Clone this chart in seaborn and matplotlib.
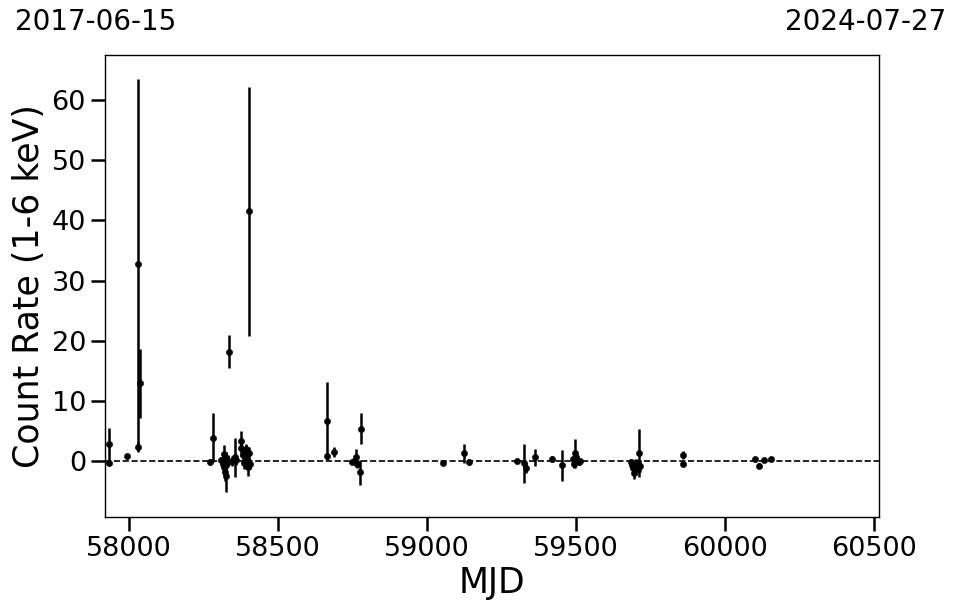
import numpy as np
import pandas as pd
import matplotlib
matplotlib.use("Agg")
import matplotlib.pyplot as plt
import seaborn as sns

# ---- data ----
mjd = [57934, 57935, 57993, 58031, 58031, 58038,
       58272, 58283, 58311, 58315, 58318, 58320, 58322, 58325, 58327, 58329,
       58333, 58336, 58345, 58355, 58360, 58375, 58378, 58383, 58387, 58392,
       58395, 58400, 58403, 58405, 58408,
       58664, 58664, 58688, 58748, 58755, 58763, 58766, 58775, 58779,
       59054, 59126, 59143, 59302, 59328, 59334, 59362, 59422, 59453,
       59490, 59495, 59498, 59502, 59505, 59510, 59515,
       59685, 59690, 59693, 59696, 59700, 59703, 59706, 59710, 59714, 59716,
       59859, 59861, 60102, 60116, 60132, 60154]
rate = [2.8, -0.4, 0.8, 32.7, 2.3, 12.9,
        -0.1, 3.9, 0.1, -0.5, 1.2, -1.0, -1.8, -2.5, 0.5, -0.3,
        0.0, 18.2, 0.0, 0.6, 0.1, 3.3, 2.2, 1.0, -0.4, 2.0,
        0.2, -1.0, 41.5, 1.3, -0.5,
        6.6, 0.8, 1.5, -0.2, 0.0, 0.6, -0.5, -1.9, 5.4,
        -0.4, 1.3, -0.2, 0.0, -0.4, -1.2, 0.6, 0.3, -0.7,
        0.3, -0.5, 1.3, 0.6, 0.2, -0.2, 0.0,
        -0.2, -0.6, -1.2, -2.0, -0.8, -1.5, -0.3, -1.0, 1.4, -0.8,
        1.0, -0.5, 0.3, -0.8, 0.2, 0.3]
err = [2.7, 0.3, 0.4, 30.8, 0.8, 5.8,
       0.5, 4.1, 0.6, 1.0, 1.5, 1.2, 1.5, 2.6, 1.0, 0.8,
       1.0, 2.7, 0.8, 3.3, 0.7, 1.7, 1.4, 1.2, 1.0, 0.8,
       1.2, 1.5, 20.7, 1.0, 0.8,
       6.5, 0.4, 0.9, 0.3, 0.3, 1.4, 0.6, 2.1, 2.6,
       0.3, 1.6, 0.5, 0.3, 3.2, 0.8, 1.4, 0.5, 2.6,
       0.5, 0.6, 2.4, 1.0, 0.6, 0.5, 0.4,
       0.5, 0.8, 1.0, 1.0, 1.2, 0.8, 0.6, 1.0, 4.0, 1.0,
       0.6, 0.4, 0.3, 0.4, 0.3, 0.3]

start_label = "2017-06-15"
end_label = "2024-07-27"
xlim = (57919, 60519)
ylim = (-9.3, 67.5)
xlabel = "MJD"
ylabel = "Count Rate (1-6 keV)"

df = pd.DataFrame({"MJD": mjd, "rate": rate, "err": err})

sns.set_theme(style="ticks")
plt.rcParams["font.family"] = ["DejaVu Sans"]

fig = plt.figure(figsize=(9.57, 6.13), dpi=100)
ax = fig.add_axes([104.7 / 957, 1 - 517 / 613, (879.3 - 104.7) / 957, (517 - 55) / 613])

ax.axhline(0, color="black", linestyle="--", linewidth=1.2, zorder=1)
ax.errorbar(df["MJD"], df["rate"], yerr=df["err"], fmt="none",
            ecolor="black", elinewidth=1.8, capsize=0, zorder=2)
sns.scatterplot(data=df, x="MJD", y="rate", ax=ax, color="black",
                s=20, edgecolor="black", linewidth=0.4, zorder=3, legend=False)

ax.set_xlim(*xlim)
ax.set_ylim(*ylim)
ax.set_xticks([58000, 58500, 59000, 59500, 60000, 60500])
ax.set_yticks([0, 10, 20, 30, 40, 50, 60])
ax.set_xlabel(xlabel, fontsize=25, color="black", labelpad=3)
ax.set_ylabel(ylabel, fontsize=25, color="black", labelpad=4)
ax.tick_params(axis="both", which="major", labelsize=19.5, length=10,
               width=1.8, color="black", labelcolor="black", direction="out")
for sp in ax.spines.values():
    sp.set_visible(True)
    sp.set_linewidth(1.0)
    sp.set_color("black")

fig.text(15 / 957, 1 - 22 / 613, start_label, ha="left", va="center", fontsize=20, color="black")
fig.text(946 / 957, 1 - 22 / 613, end_label, ha="right", va="center", fontsize=20, color="black")

fig.savefig("out.png", dpi=100)
